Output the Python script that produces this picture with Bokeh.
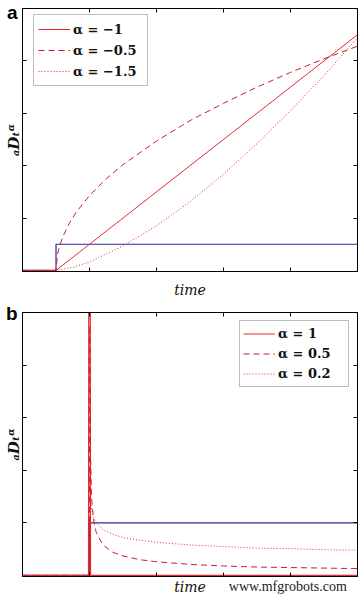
from bokeh.plotting import figure
from bokeh.models import Range1d, LinearAxis, FixedTicker
from bokeh.layouts import column
from bokeh.embed import file_html
from bokeh.resources import INLINE

# ---------------- data ----------------
tick_vals = [1, 2, 3, 4]

# panel a : step at t = 0.5 and its fractional integrals
a_step_t = [0, 0.5, 0.5, 5]
a_step_v = [0, 0, 0.5, 0.5]

a_m1_t = [0, 0.5, 5]
a_m1_v = [0, 0, 4.5]

a_m05_t = [0, 0.5, 0.52, 0.55, 0.6, 0.7, 0.8, 1.0, 1.25, 1.5, 2.0, 2.5, 3.0, 3.5, 4.0, 4.5, 5.0]
a_m05_v = [0, 0, 0.29, 0.45, 0.64, 0.90, 1.11, 1.43, 1.75, 2.02, 2.47, 2.86, 3.19, 3.50, 3.78, 4.04, 4.28]

a_m15_t = [0, 0.5, 0.75, 1.0, 1.5, 2.0, 2.5, 3.0, 3.5, 4.0, 4.5, 5.0]
a_m15_v = [0, 0, 0.06, 0.16, 0.47, 0.85, 1.31, 1.84, 2.42, 3.05, 3.72, 4.44]

# panel b : step at t = 1 and its fractional derivatives
b_step_t = [0, 1, 1, 5]
b_step_v = [0, 0, 1, 1]

b_1_t = [0, 0.985, 1.0, 1.015, 5]
b_1_v = [0, 0, 20, 0, 0]

b_05_t = [0, 1.0, 1.003, 1.01, 1.03, 1.06, 1.1, 1.2, 1.35, 1.5, 1.75, 2.0, 2.5, 3.0, 3.5, 4.0, 4.5, 5.0]
b_05_v = [0, 0, 4.75, 2.6, 1.5, 1.06, 0.82, 0.58, 0.44, 0.37, 0.30, 0.26, 0.21, 0.18, 0.16, 0.15, 0.14, 0.13]

b_02_t = [0, 1.0, 1.003, 1.01, 1.03, 1.06, 1.1, 1.2, 1.35, 1.5, 1.75, 2.0, 2.5, 3.0, 3.5, 4.0, 4.5, 5.0]
b_02_v = [0, 0, 2.0, 1.58, 1.27, 1.11, 1.0, 0.87, 0.78, 0.72, 0.67, 0.63, 0.58, 0.55, 0.52, 0.51, 0.49, 0.48]

legend_a = ["α = −1", "α = −0.5", "α = −1.5"]
legend_b = ["α = 1", "α = 0.5", "α = 0.2"]
x_title = "time"
y_title = "ₐDₜᵅ"
panel_letters = ["a", "b"]
watermark = "www.mfgrobots.com"

RED = "#e52a33"
RED_D = "#cc1d27"
BLUE = "#2a2aa6"
SERIF = "DejaVu Serif"


def make_fig(h, top, bottom, left, right, xl_standoff, yl_standoff):
    p = figure(width=358, height=h, output_backend="svg", toolbar_location=None,
               x_range=Range1d(0, 5), y_range=Range1d(-0.02, 5),
               min_border_top=top, min_border_bottom=bottom,
               min_border_left=left, min_border_right=right,
               x_axis_location=None, y_axis_location=None)
    p.grid.visible = False
    p.outline_line_color = "black"
    p.outline_line_width = 1
    p.background_fill_color = "white"
    p.border_fill_color = "white"
    for loc in ["left", "right", "above", "below"]:
        ax = LinearAxis(ticker=FixedTicker(ticks=tick_vals))
        ax.major_label_text_font_size = "0px"
        ax.major_label_standoff = 0
        ax.major_tick_out = 0
        ax.major_tick_in = 4
        ax.minor_tick_line_color = None
        ax.axis_line_color = "black"
        ax.major_tick_line_color = "black"
        if loc == "below":
            ax.axis_label = x_title
            ax.axis_label_text_font = SERIF
            ax.axis_label_text_font_style = "italic"
            ax.axis_label_text_font_size = "14px"
            ax.axis_label_standoff = xl_standoff
            ax.axis_label_text_color = "#111111"
        if loc == "left":
            ax.axis_label = y_title
            ax.axis_label_text_font = SERIF
            ax.axis_label_text_font_style = "bold italic"
            ax.axis_label_text_font_size = "15px"
            ax.axis_label_standoff = yl_standoff
            ax.axis_label_text_color = "#111111"
        p.add_layout(ax, loc)
    return p


def text_axis(p, loc, at, text, font, style, size, standoff, color="#111111"):
    ax = LinearAxis(ticker=FixedTicker(ticks=[at]), major_label_overrides={at: text})
    ax.axis_line_color = None
    ax.major_tick_line_color = None
    ax.minor_tick_line_color = None
    ax.major_tick_in = 0
    ax.major_tick_out = 0
    ax.major_label_standoff = standoff
    ax.major_label_text_font = font
    ax.major_label_text_font_style = style
    ax.major_label_text_font_size = size
    ax.major_label_text_color = color
    p.add_layout(ax, loc)


def style_legend(p, lx, ly, lab_w, lab_h, pad):
    lg = p.legend[0]
    lg.location = (lx, ly)
    lg.label_text_font = SERIF
    lg.label_text_font_style = "bold"
    lg.label_text_font_size = "13px"
    lg.label_text_color = "#111111"
    lg.glyph_width = 32
    lg.glyph_height = lab_h
    lg.label_height = lab_h
    lg.label_width = lab_w
    lg.label_standoff = 3
    lg.spacing = 1
    lg.padding = pad
    lg.margin = 0
    lg.border_line_color = "#7a7a7a"
    lg.border_line_width = 1.5
    lg.background_fill_alpha = 1


# ---------------- panel a ----------------
pa = make_fig(300, 8, 29, 21, 1, 10, 0)
pa.line(a_step_t, a_step_v, color=BLUE, line_width=1.2)
pa.line(a_m1_t, a_m1_v, color=RED, line_width=1, legend_label=legend_a[0])
pa.line(a_m05_t, a_m05_v, color=RED_D, line_width=1, line_dash="6 4", legend_label=legend_a[1])
pa.line(a_m15_t, a_m15_v, color=RED, line_width=1, line_dash="1 2", legend_label=legend_a[2])
style_legend(pa, 11, 185, 70, 20, 4)
text_axis(pa, "left", 4.99, panel_letters[0], "Liberation Sans", "bold", "19px", -16, "black")

# ---------------- panel b ----------------
pb = make_fig(297, 12, 21, 22, 1, 2, 0)
pb.line(b_step_t, b_step_v, color=BLUE, line_width=1.2)
pb.line(b_1_t, b_1_v, color=RED, line_width=1.2, legend_label=legend_b[0])
pb.line(b_05_t, b_05_v, color=RED_D, line_width=1, line_dash="6 4", legend_label=legend_b[1])
pb.line(b_02_t, b_02_v, color=RED, line_width=1, line_dash="1 2", legend_label=legend_b[2])
style_legend(pb, 217, 189, 67, 19, 3)
text_axis(pb, "left", 4.99, panel_letters[1], "Liberation Sans", "bold", "19px", -16, "black")
text_axis(pb, "below", 3.96, watermark, "Liberation Serif", "normal", "14px", -19, "#222222")

layout = column(pa, pb, spacing=0)
open("out.html", "w").write(file_html(layout, INLINE))
